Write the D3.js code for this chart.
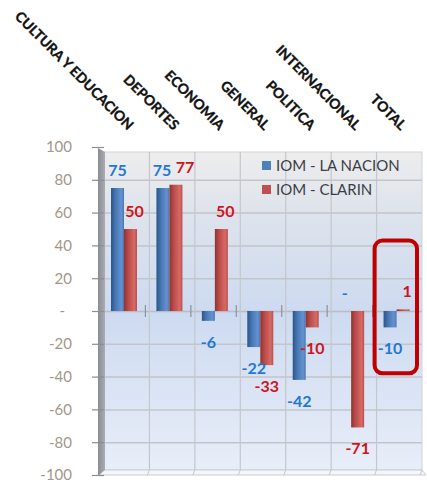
<!DOCTYPE html>
<html>
<head>
<meta charset="utf-8">
<script src="https://cdn.jsdelivr.net/npm/d3@7"></script>
<style>
  body { margin: 0; background: #fff; }
  svg { display: block; }
</style>
</head>
<body>
<svg id="chart"></svg>
<script>
var categories = ['CULTURA Y EDUCACION', 'DEPORTES', 'ECONOMIA', 'GENERAL', 'POLITICA', 'INTERNACIONAL', 'TOTAL']
var series = ['IOM - LA NACION', 'IOM - CLARIN']
var laNacion = [75, 75, -6, -22, -42, 0, -10]
var clarin = [50, 77, 50, -33, -10, -71, 1]
var yTicks = [100, 80, 60, 40, 20, 0, -20, -40, -60, -80, -100]

var W = 427, H = 490
var svg = d3.select('#chart').attr('width', W).attr('height', H)

var x = d3.scaleBand().domain(categories).range([104, 422])
var x1 = d3.scaleBand().domain(series).range([7, 33])
var y = d3.scaleLinear().domain([-100, 100]).range([475, 147])

var colors = { 'IOM - LA NACION': '#4f81bd', 'IOM - CLARIN': '#c0504d' }
var labelColors = { 'IOM - LA NACION': '#1f78d1', 'IOM - CLARIN': '#d0141c' }

var defs = svg.append('defs')
var wall = defs.append('linearGradient').attr('id', 'wall')
    .attr('x1', 0).attr('y1', 0).attr('x2', 0).attr('y2', 1)
wall.append('stop').attr('offset', '0%').attr('stop-color', '#ededed')
wall.append('stop').attr('offset', '18%').attr('stop-color', '#dfe4ec')
wall.append('stop').attr('offset', '50%').attr('stop-color', '#cddaf0')
wall.append('stop').attr('offset', '100%').attr('stop-color', '#e8eef9')

var side = defs.append('linearGradient').attr('id', 'side')
    .attr('x1', 0).attr('y1', 0).attr('x2', 1).attr('y2', 0)
side.append('stop').attr('offset', '0%').attr('stop-color', '#8a8d92')
side.append('stop').attr('offset', '100%').attr('stop-color', '#a9adb3')

function barGrad(id, dark, mid, light) {
  var g = defs.append('linearGradient').attr('id', id)
      .attr('x1', 0).attr('y1', 0).attr('x2', 1).attr('y2', 0)
  g.append('stop').attr('offset', '0%').attr('stop-color', dark)
  g.append('stop').attr('offset', '35%').attr('stop-color', mid)
  g.append('stop').attr('offset', '80%').attr('stop-color', light)
  g.append('stop').attr('offset', '100%').attr('stop-color', mid)
}
barGrad('g0', '#2c5588', '#4677b4', '#6692cf')
barGrad('g1', '#8f3331', '#bd4c49', '#d46b67')

// back wall
svg.append('rect')
    .attr('x', 104).attr('y', 152)
    .attr('width', 318).attr('height', 318)
    .attr('fill', 'url(#wall)')
    .attr('stroke', '#d0d3d8').attr('stroke-width', 1)

// floor
svg.append('path')
    .attr('d', 'M104,470 L422,470 L426,475 L98,475 Z')
    .attr('fill', '#f4f6fa').attr('stroke', '#c8ccd2').attr('stroke-width', 1)

// left side wall
svg.append('path')
    .attr('d', 'M98,148 L105,152 L105,470 L98,476 Z')
    .attr('fill', 'url(#side)')

// horizontal gridlines
svg.append('g').selectAll('line')
    .data(yTicks.filter(function (d) { return d !== 100 && d !== -100 }))
    .enter().append('line')
    .attr('x1', 105).attr('x2', 422)
    .attr('y1', function (d) { return y(d) + 0.5 })
    .attr('y2', function (d) { return y(d) + 0.5 })
    .attr('stroke', function (d) { return d === 0 ? '#b9bcc2' : '#c2c5ca' })
    .attr('stroke-width', 1.5)

// vertical gridlines at category boundaries
var bounds = categories.slice(1).map(function (c) { return x(c) })
svg.append('g').selectAll('line')
    .data(bounds)
    .enter().append('line')
    .attr('x1', function (d) { return d }).attr('x2', function (d) { return d })
    .attr('y1', 152).attr('y2', 470)
    .attr('stroke', '#c4c7cc').attr('stroke-width', 1.2)

// floor ticks
svg.append('g').selectAll('line')
    .data(bounds.concat([422]))
    .enter().append('line')
    .attr('x1', function (d) { return d }).attr('x2', function (d) { return d - 2 })
    .attr('y1', 470).attr('y2', 475)
    .attr('stroke', '#c4c7cc').attr('stroke-width', 1)

// y axis
var yAxis = svg.append('g')
    .attr('transform', 'translate(104,0)')
    .call(d3.axisLeft(y).tickValues(yTicks).tickSize(12).tickPadding(20)
      .tickFormat(function (d) { return d === 0 ? '-' : d }))
yAxis.select('.domain').remove()
yAxis.selectAll('.tick line').attr('stroke', '#8a8d92').attr('stroke-width', 1.2)
yAxis.selectAll('.tick text')
    .attr('fill', '#a2978c')
    .style('font-family', 'Lato, sans-serif')
    .style('font-size', '15px')
    .attr('dx', function (d) { return d === 0 ? -7 : 0 })

// bars
var groups = svg.append('g').selectAll('g')
    .data(categories)
    .enter().append('g')
    .attr('transform', function (c) { return 'translate(' + x(c) + ',0)' })

var barData = function (c, i) {
  return [
    { s: series[0], v: laNacion[i], o: clarin[i], k: 0 },
    { s: series[1], v: clarin[i], o: laNacion[i], k: 1 }
  ]
}

groups.selectAll('rect')
    .data(barData)
    .enter().append('rect')
    .attr('x', function (d) { return x1(d.s) })
    .attr('width', x1.bandwidth())
    .attr('y', function (d) { return y(Math.max(0, d.v)) })
    .attr('height', function (d) { return Math.abs(y(d.v) - y(0)) })
    .attr('fill', function (d) { return 'url(#g' + d.k + ')' })

// category ticks on the zero line
svg.append('g').selectAll('line')
    .data(bounds.concat([422]))
    .enter().append('line')
    .attr('x1', function (d) { return d - 4 }).attr('x2', function (d) { return d - 4 })
    .attr('y1', y(0) - 6).attr('y2', y(0) + 6)
    .attr('stroke', '#8f9297').attr('stroke-width', 1.2)

// data labels (nudge apart when the pair sits at the same height)
function labelY(v) { return v >= 0 ? y(v) - 12 : y(v) + 27 }
groups.selectAll('text')
    .data(barData)
    .enter().append('text')
    .attr('x', function (d) {
      var cx = x1(d.s) + x1.bandwidth() / 2
      var close = Math.abs(labelY(d.v) - labelY(d.o)) < 14
      if (close) cx += d.k === 0 ? -1 : 9
      else if (d.k === 1 && d.v > 0) cx += 4
      return cx
    })
    .attr('y', function (d) { return labelY(d.v) })
    .attr('text-anchor', 'middle')
    .attr('fill', function (d) { return labelColors[d.s] })
    .style('font-family', 'Lato, sans-serif')
    .style('font-weight', 'bold')
    .style('font-size', '16px')
    .text(function (d) { return d.v === 0 ? '-' : d.v })

// category labels, rotated
svg.append('g').selectAll('text')
    .data(categories)
    .enter().append('text')
    .attr('transform', function (c) {
      return 'translate(' + (x(c) + x.bandwidth() / 2 + 1) + ',131) rotate(45)'
    })
    .attr('text-anchor', 'end')
    .attr('fill', '#111')
    .attr('stroke', '#111').attr('stroke-width', 0.35)
    .style('font-family', 'Lato, sans-serif')
    .style('font-weight', 'bold')
    .style('font-size', '14px')
    .text(function (c) { return c })

// legend
var legend = svg.append('g').selectAll('g')
    .data(series)
    .enter().append('g')
    .attr('transform', function (s, i) { return 'translate(262,' + (161 + i * 24) + ')' })
legend.append('rect')
    .attr('width', 9).attr('height', 9)
    .attr('fill', function (s) { return colors[s] })
legend.append('text')
    .attr('x', 14).attr('y', 10)
    .attr('fill', '#3a3f47')
    .style('font-family', 'Lato, sans-serif')
    .style('font-size', '15px')
    .text(function (s) { return s })

// highlight around TOTAL
svg.append('rect')
    .attr('x', x('TOTAL') - 2).attr('y', y(43))
    .attr('width', x.bandwidth() - 3).attr('height', y(-38) - y(43))
    .attr('rx', 8).attr('ry', 8)
    .attr('fill', 'none')
    .attr('stroke', '#c00000').attr('stroke-width', 4)
</script>
</body>
</html>
